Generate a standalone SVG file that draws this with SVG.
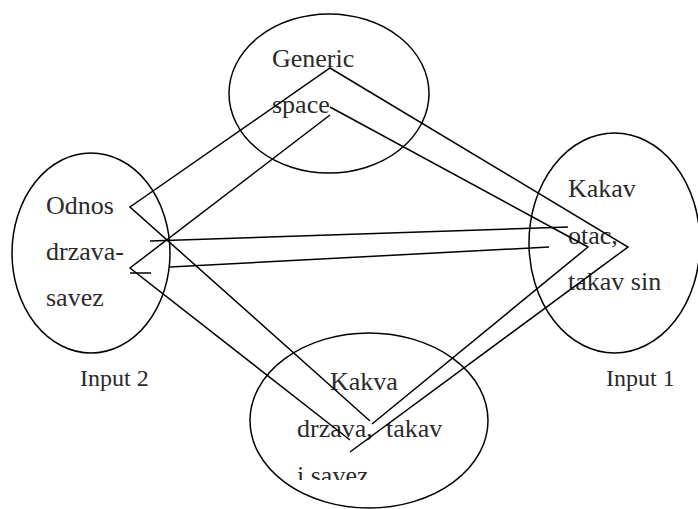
<svg xmlns="http://www.w3.org/2000/svg" width="698" height="509" viewBox="0 0 698 509">
  <style>
    .space { fill: none; stroke: #000; stroke-width: 1.5; }
    .link { fill: none; stroke: #000; stroke-width: 1.5; stroke-linejoin: miter; }
    .label { font-family: "Liberation Serif", "Times New Roman", serif; font-size: 26px; fill: #2a2a2a; }
    .caption { font-family: "Liberation Serif", "Times New Roman", serif; font-size: 24px; fill: #2a2a2a; }
  </style>
  <defs>
    <clipPath id="bottom-clip">
      <rect x="240" y="330" width="260" height="150"/>
    </clipPath>
  </defs>
  <rect width="698" height="509" fill="#fff"/>

  <!-- generic space -->
  <g id="generic">
    <ellipse class="space" cx="329" cy="93.5" rx="100" ry="79.5"/>
    <text class="label" x="272" y="67">Generic</text>
    <text class="label" x="272" y="113">space</text>
  </g>

  <!-- input 2 -->
  <g id="input2">
    <ellipse class="space" cx="91" cy="253" rx="79" ry="100"/>
    <text class="label" x="46" y="214">Odnos</text>
    <text class="label" x="46" y="260">drzava-</text>
    <text class="label" x="46" y="306">savez</text>
    <text class="caption" x="80" y="386">Input 2</text>
  </g>

  <!-- input 1 -->
  <g id="input1">
    <ellipse class="space" cx="614.5" cy="243" rx="85.5" ry="110"/>
    <text class="label" x="568" y="197">Kakav</text>
    <text class="label" x="568" y="244">otac,</text>
    <text class="label" x="568" y="290">takav sin</text>
    <text class="caption" x="606" y="386">Input 1</text>
  </g>

  <!-- blend -->
  <g id="blend">
    <ellipse class="space" cx="369" cy="420.5" rx="119" ry="87.5"/>
    <g clip-path="url(#bottom-clip)">
      <text class="label" x="330" y="390">Kakva</text>
      <text class="label" x="297" y="437">drzava,<tspan x="386">takav</tspan></text>
      <text class="label" x="297" y="484">i savez</text>
    </g>
  </g>

  <!-- projections between the spaces -->
  <g id="connectors">
    <polyline class="link" points="370,421 130,207 330,68 628,247 350,452"/>
    <polyline class="link" points="350,440 130,268 330,115"/>
    <polyline class="link" points="330,107 588,247 372,424"/>
    <line class="link" x1="150" y1="241" x2="568" y2="227"/>
    <line class="link" x1="170" y1="267" x2="549" y2="247"/>
    <line class="link" x1="130" y1="273" x2="151" y2="273"/>
  </g>
</svg>
